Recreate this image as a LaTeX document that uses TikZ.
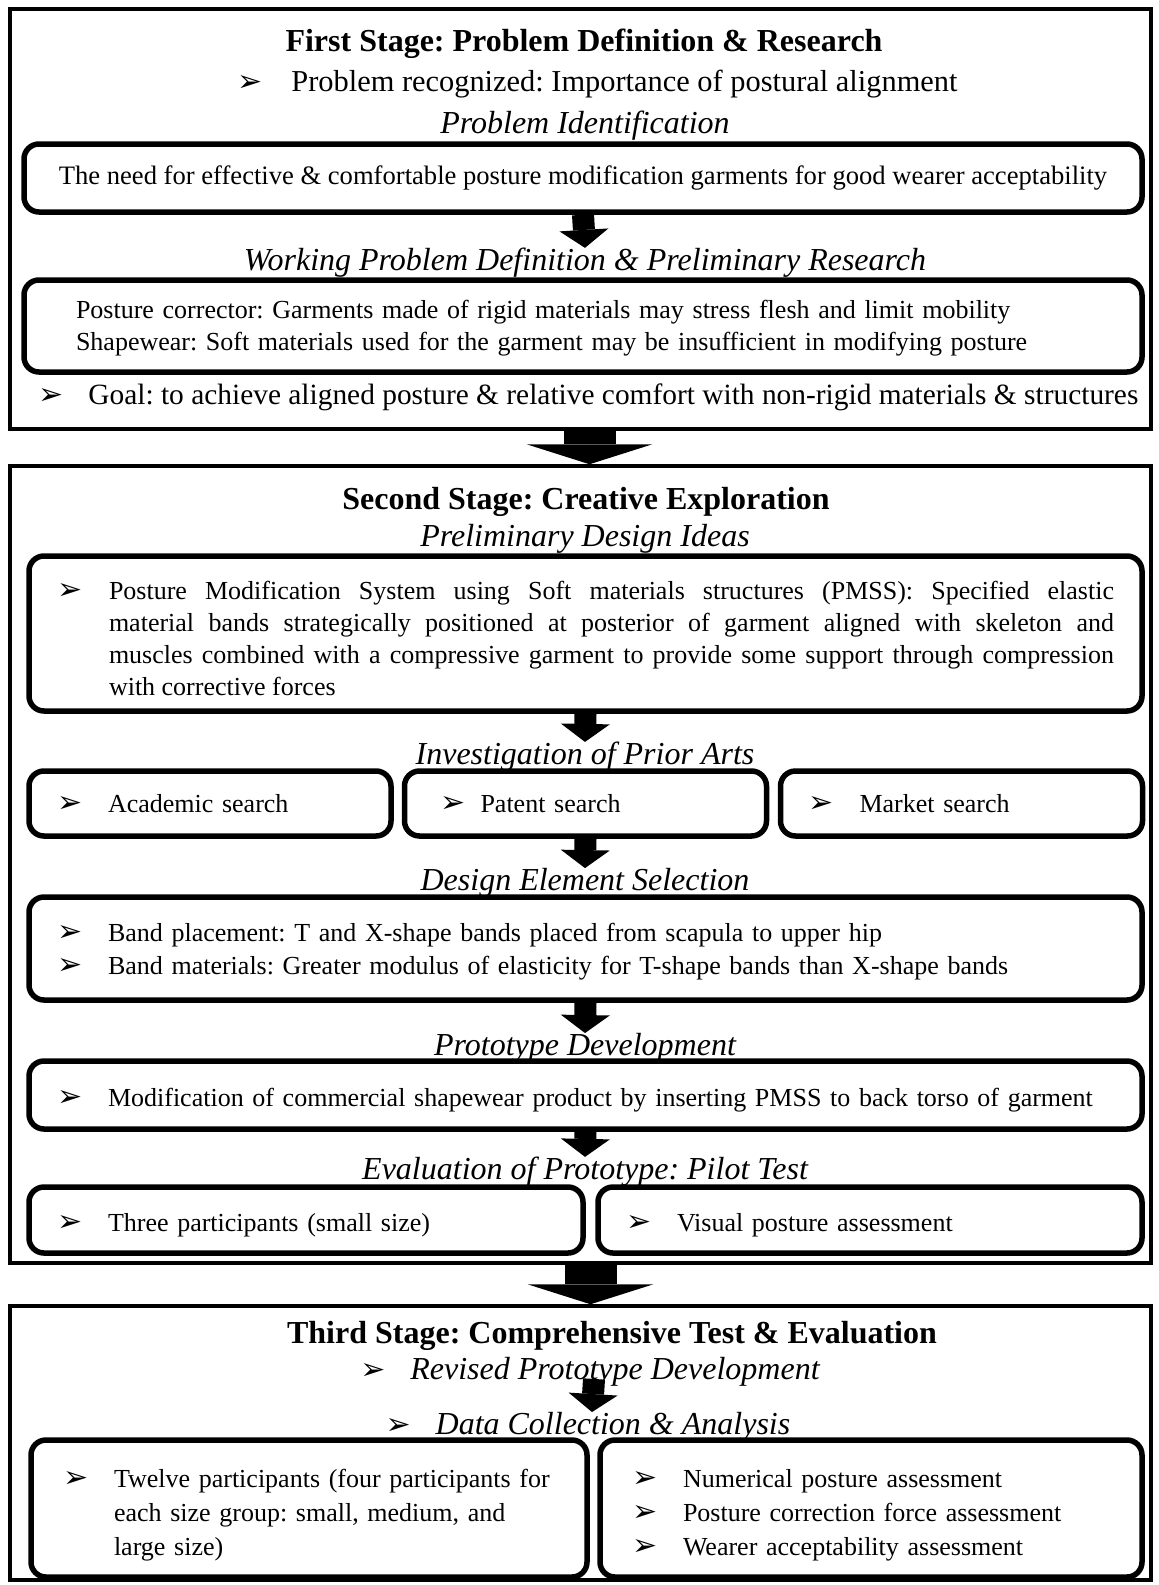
\documentclass[tikz,border=0pt]{standalone}
\usepackage{fontspec}
\setmainfont{Liberation Serif}
\newfontfamily\symfont{DejaVu Sans}
\usetikzlibrary{arrows.meta,positioning}
\frenchspacing
\newcommand{\bul}{{\fontsize{15}{15}\symfont\char"27A2}}
\newcommand{\bl}{\makebox[25.5pt][l]{\bul}}
\tikzset{
  frame/.style={draw, line width=1.75pt, inner sep=0pt},
  box/.style={draw, line width=2.75pt, rounded corners=7.5pt, inner xsep=14pt, inner ysep=0pt, align=left, font=\fontsize{13}{16}\selectfont},
  txt/.style={inner sep=0pt, font=\fontsize{14.7}{16}\selectfont},
  head/.style={inner sep=0pt, font=\fontsize{16}{18}\selectfont\itshape},
  stagetitle/.style={inner sep=0pt, font=\fontsize{16}{18}\selectfont\bfseries},
  bigarrow/.style={line width=26pt, -{Triangle[width=63pt,length=10pt,line width=0pt]}},
  smallarrow/.style={line width=11pt, -{Triangle[width=24.5pt,length=9pt,line width=0pt]}}
}

\begin{document}
\begin{tikzpicture}[x=0.5pt, y=-0.5pt]
    \useasboundingbox (0,0) rectangle (1158,1585);
    % first stage
    \node[frame, minimum width=570.5pt, minimum height=210pt] (s1) at (580.5,219) {};
    \node[stagetitle] (t1) at (584,44) {First Stage: Problem Definition \& Research};
    \node[txt, anchor=west, font=\fontsize{15.2}{16}\selectfont] (rec) at (237,84) {\makebox[27pt][l]{\bul}Problem recognized: Importance of postural alignment};
    \node[head] (pid) at (585,126) {Problem Identification};
    \node[box, minimum width=559pt, minimum height=34pt, align=center, font=\fontsize{13.3}{16}\selectfont] (need) at (583,178) {The need for effective \& comfortable posture modification garments for good wearer acceptability};
    \node[head] (wpd) at (585,263) {Working Problem Definition \& Preliminary Research};
    \node[box, minimum width=559pt, minimum height=46pt, inner xsep=26pt, text width=507pt] (prelim) at (583,326) {\rule{0pt}{11pt}Posture corrector: Garments made of rigid materials may stress flesh and limit mobility\\Shapewear: Soft materials used for the garment may be insufficient in modifying posture};
    \node[txt, anchor=west] (goal) at (38,397) {\makebox[25pt][l]{\bul}Goal: to achieve aligned posture \& relative comfort with non-rigid materials \& structures};
    \draw[smallarrow] (need.south) -- (wpd.north);

    % second stage
    \node[frame, minimum width=570.5pt, minimum height=398.5pt] (s2) at (580.5,864.5) {};
    \node[stagetitle] (t2) at (586,502) {Second Stage: Creative Exploration};
    \node[head] (pdi) at (585,539) {Preliminary Design Ideas};
    \node[box, minimum width=556.5pt, minimum height=77.5pt, text width=528.5pt, align=justify] (pmss) at (585.5,633.5) {\rule{0pt}{19.2pt}\begin{tabular}[t]{@{}p{26pt}@{}p{502.5pt}@{}}
      \bul & Posture Modification System using Soft materials structures (PMSS): Specified elastic\linebreak material bands strategically positioned at posterior of garment aligned with skeleton and\linebreak muscles combined with a compressive garment to provide some support through compression\linebreak with corrective forces
    \end{tabular}};
    \node[head] (ipa) at (585,757) {Investigation of Prior Arts};
    \node[box, minimum width=181pt, minimum height=32.5pt, text width=153pt] (acad) at (210,803.5) {\bl Academic search};
    \node[box, minimum width=181pt, minimum height=32.5pt, text width=153pt] (patent) at (585.5,803.5) {\hspace*{4pt}\makebox[20pt][l]{\bul}Patent search};
    \node[box, minimum width=181pt, minimum height=32.5pt, text width=153pt] (market) at (961.5,803.5) {\bl Market search};
    \node[head] (des) at (585,883) {Design Element Selection};
    \node[box, minimum width=556.5pt, minimum height=51.5pt, text width=528.5pt, font=\fontsize{13}{16.5}\selectfont] (bands) at (585.5,948.5) {\rule{0pt}{12.5pt}\bl Band placement: T and X-shape bands placed from scapula to upper hip\\\bl Band materials: Greater modulus of elasticity for T-shape bands than X-shape bands};
    \node[head] (pd) at (585,1048) {Prototype Development};
    \node[box, minimum width=556.5pt, minimum height=34pt, text width=528.5pt] (modif) at (585.5,1095) {\rule{0pt}{14pt}\bl Modification of commercial shapewear product by inserting PMSS to back torso of garment};
    \node[head] (evl) at (585,1172) {Evaluation of Prototype: Pilot Test};
    \node[box, minimum width=277pt, minimum height=33pt, text width=249pt] (three) at (306,1220) {\rule{0pt}{14pt}\bl Three participants (small size)};
    \node[box, minimum width=272pt, minimum height=33pt, text width=244pt] (visual) at (870,1220) {\rule{0pt}{14pt}\bl Visual posture assessment};
    \draw[smallarrow] (pmss.south) -- (ipa.north);
    \draw[smallarrow] (patent.south) -- (des.north);
    \draw[smallarrow] (bands.south) -- (pd.north);
    \draw[smallarrow] (modif.south) -- (evl.north);

    % third stage
    \node[frame, minimum width=570.5pt, minimum height=137pt] (s3) at (580.5,1443) {};
    \node[stagetitle] (t3) at (612,1336) {Third Stage: Comprehensive Test \& Evaluation};
    \node[head] (rev) at (590,1372) {\makebox[25pt][l]{\bul}Revised Prototype Development};
    \node[head] (dca) at (588,1427) {\makebox[25pt][l]{\bul}Data Collection \& Analysis};
    \node[box, minimum width=278pt, minimum height=68.5pt, inner xsep=16pt, text width=246pt, font=\fontsize{13}{17}\selectfont] (twelve) at (309,1508.5) {\rule{0pt}{17.9pt}\begin{tabular}[t]{@{}p{25.5pt}@{}l@{}}
      \bul & Twelve participants (four participants for\\
           & each size group: small, medium, and\\
           & large size)
    \end{tabular}};
    \node[box, minimum width=271pt, minimum height=68.5pt, inner xsep=16pt, text width=239pt, font=\fontsize{13}{17}\selectfont] (assess) at (871,1508.5) {\rule{0pt}{17.9pt}\begin{tabular}[t]{@{}p{25.5pt}@{}l@{}}
      \bul & Numerical posture assessment\\
      \bul & Posture correction force assessment\\
      \bul & Wearer acceptability assessment
    \end{tabular}};
    \draw[smallarrow] ([xshift=2pt, yshift=4pt]rev.south) -- ([xshift=2pt]dca.north);

    % between stages
    \draw[bigarrow] ([xshift=4.5pt]s1.south) -- ([xshift=4.5pt]s2.north);
    \draw[bigarrow] ([xshift=5pt]s2.south) -- ([xshift=5pt]s3.north);
\end{tikzpicture}
\end{document}
